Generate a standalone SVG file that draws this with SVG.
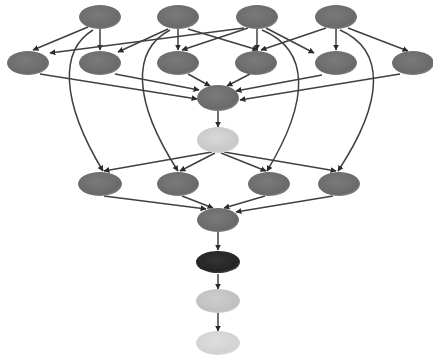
<svg xmlns="http://www.w3.org/2000/svg" width="433" height="359" viewBox="0 0 433 359">
<style>
.e{fill:none;stroke:#404040;stroke-width:1.5;marker-end:url(#ah)}
.g{fill:url(#gg)}
.lt{fill:url(#gl)}
.dk{fill:url(#gd)}
.lt2{fill:url(#gl2)}
.lt3{fill:url(#gl3)}
</style>
<defs>
<marker id="ah" viewBox="0 0 10 10" refX="9" refY="5" markerWidth="6" markerHeight="6" orient="auto" markerUnits="userSpaceOnUse">
<path d="M0,0 L10,5 L0,10 z" fill="#2a2a2a"/>
</marker>
<radialGradient id="gg" cx="0.45" cy="0.4" r="0.65"><stop offset="0" stop-color="#7a7a7a"/><stop offset="0.8" stop-color="#6a6a6a"/><stop offset="1" stop-color="#8a8a8a"/></radialGradient>
<radialGradient id="gl" cx="0.45" cy="0.4" r="0.65"><stop offset="0" stop-color="#d8d8d8"/><stop offset="0.8" stop-color="#c8c8c8"/><stop offset="1" stop-color="#dadada"/></radialGradient>
<radialGradient id="gd" cx="0.45" cy="0.4" r="0.65"><stop offset="0" stop-color="#333"/><stop offset="0.8" stop-color="#252525"/><stop offset="1" stop-color="#555"/></radialGradient>
<radialGradient id="gl2" cx="0.45" cy="0.4" r="0.65"><stop offset="0" stop-color="#cdcdcd"/><stop offset="0.8" stop-color="#c0c0c0"/><stop offset="1" stop-color="#d5d5d5"/></radialGradient>
<radialGradient id="gl3" cx="0.45" cy="0.4" r="0.65"><stop offset="0" stop-color="#dedede"/><stop offset="0.8" stop-color="#d2d2d2"/><stop offset="1" stop-color="#e2e2e2"/></radialGradient>
<filter id="soft" x="-10%" y="-10%" width="120%" height="120%"><feGaussianBlur stdDeviation="0.7"/></filter>
</defs>
<rect width="433" height="359" fill="#fff"/>
<g id="connectors">
<path class="e" d="M88,27 L33,50"/>
<path class="e" d="M100,29 L100,50"/>
<path class="e" d="M93,30 C60,50 60,100 103,171"/>
<path class="e" d="M168,29 L118,52"/>
<path class="e" d="M178,29 L178,50"/>
<path class="e" d="M188,29 L258,50"/>
<path class="e" d="M170,30 C132,50 132,100 178,171"/>
<path class="e" d="M244,28 L50,53"/>
<path class="e" d="M248,28 L182,50"/>
<path class="e" d="M257,29 L257,50"/>
<path class="e" d="M266,28 L314,53"/>
<path class="e" d="M262,30 C310,50 310,100 267,171"/>
<path class="e" d="M326,28 L261,50"/>
<path class="e" d="M336,29 L336,50"/>
<path class="e" d="M348,28 L408,51"/>
<path class="e" d="M340,30 C385,50 385,100 338,171"/>
<path class="e" d="M40,74 L197,99"/>
<path class="e" d="M115,74 L199,90"/>
<path class="e" d="M188,74 L210,86"/>
<path class="e" d="M250,74 L227,86"/>
<path class="e" d="M322,75 L236,91"/>
<path class="e" d="M400,74 L240,100"/>
<path class="e" d="M218,110 L218,127"/>
<path class="e" d="M212,152 L104,171"/>
<path class="e" d="M215,153 L180,171"/>
<path class="e" d="M221,153 L266,171"/>
<path class="e" d="M224,152 L336,171"/>
<path class="e" d="M104,196 L206,209"/>
<path class="e" d="M182,196 L213,208"/>
<path class="e" d="M265,196 L224,208"/>
<path class="e" d="M333,196 L236,212"/>
<path class="e" d="M218,232 L218,250"/>
<path class="e" d="M218,274 L218,289"/>
<path class="e" d="M218,313 L218,331"/>
</g>
<g filter="url(#soft)">
<g id="t1"><ellipse class="g" cx="100" cy="17" rx="21" ry="12"/></g>
<g id="t2"><ellipse class="g" cx="178" cy="17" rx="21" ry="12"/></g>
<g id="t3"><ellipse class="g" cx="257" cy="17" rx="21" ry="12"/></g>
<g id="t4"><ellipse class="g" cx="336" cy="17" rx="21" ry="12"/></g>
<g id="s1"><ellipse class="g" cx="28" cy="63" rx="21" ry="12"/></g>
<g id="s2"><ellipse class="g" cx="100" cy="63" rx="21" ry="12"/></g>
<g id="s3"><ellipse class="g" cx="178" cy="63" rx="21" ry="12"/></g>
<g id="s4"><ellipse class="g" cx="256" cy="63" rx="21" ry="12"/></g>
<g id="s5"><ellipse class="g" cx="336" cy="63" rx="21" ry="12"/></g>
<g id="s6"><ellipse class="g" cx="413" cy="63" rx="21" ry="12"/></g>
<g id="m1"><ellipse class="g" cx="218" cy="98" rx="21" ry="13"/></g>
<g id="l1"><ellipse class="lt" cx="218" cy="140" rx="21" ry="13"/></g>
<g id="r1"><ellipse class="g" cx="100" cy="184" rx="22" ry="12"/></g>
<g id="r2"><ellipse class="g" cx="178" cy="184" rx="21" ry="12"/></g>
<g id="r3"><ellipse class="g" cx="269" cy="184" rx="21" ry="12"/></g>
<g id="r4"><ellipse class="g" cx="339" cy="184" rx="21" ry="12"/></g>
<g id="m2"><ellipse class="g" cx="218" cy="220" rx="21" ry="12"/></g>
<g id="d1"><ellipse class="dk" cx="218" cy="262" rx="22" ry="11"/></g>
<g id="l2"><ellipse class="lt2" cx="218" cy="301" rx="22" ry="12"/></g>
<g id="l3"><ellipse class="lt3" cx="218" cy="343" rx="22" ry="12"/></g>
</g>
</svg>
